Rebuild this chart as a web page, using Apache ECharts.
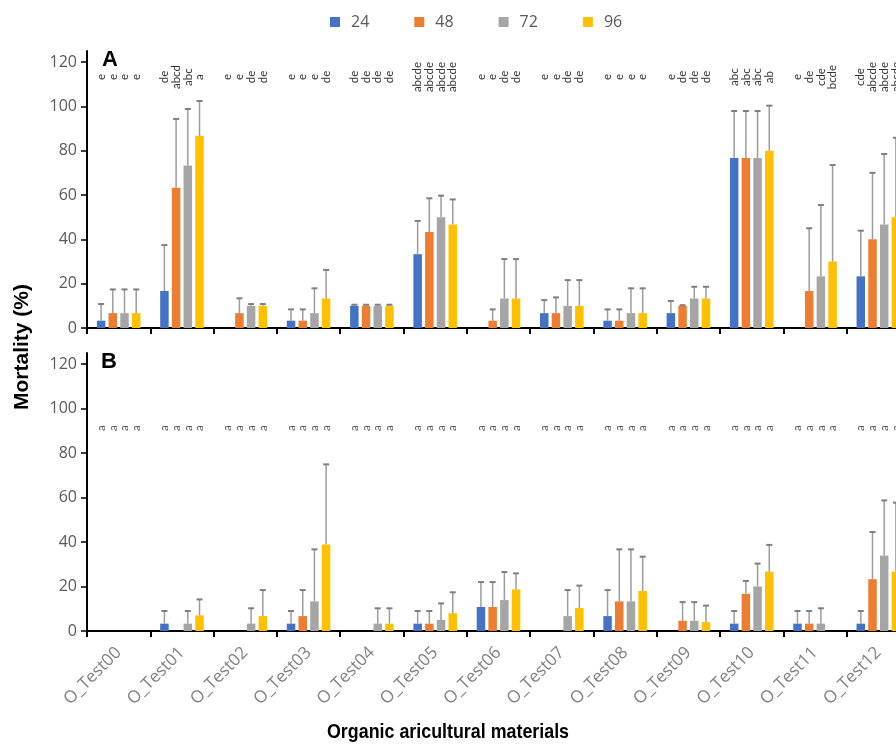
<!DOCTYPE html>
<html>
<head>
<meta charset="utf-8">
<script src="https://cdn.jsdelivr.net/npm/echarts@6/dist/echarts.min.js"></script>
<style>html,body{margin:0;padding:0;background:#fff}#c{width:896px;height:751px}</style>
</head>
<body>
<div id="c"></div>
<script>
// ---------- DATA ----------
const categories = ['O_Test00','O_Test01','O_Test02','O_Test03','O_Test04','O_Test05','O_Test06','O_Test07','O_Test08','O_Test09','O_Test10','O_Test11','O_Test12'];
const seriesNames = ['24','48','72','96'];
const yTicks = [0,20,40,60,80,100,120];

// Panel A means
const a24 = [3.3,16.7,0,3.3,10,33.3,0,6.7,3.3,6.7,76.7,0,23.3];
const a48 = [6.7,63.3,6.7,3.3,10,43.3,3.3,6.7,3.3,10,76.7,16.7,40];
const a72 = [6.7,73.3,10,6.7,10,50,13.3,10,6.7,13.3,76.7,23.3,46.7];
const a96 = [6.7,86.7,10,13.3,10,46.7,13.3,10,6.7,13.3,80,30,50];
// Panel A error (+)
const aErr24 = [7.5,20.7,0,5.1,0.5,15,0,5.9,5.1,5.5,21.2,0,20.6];
const aErr48 = [10.7,31,6.7,5.1,0.5,15.2,5.1,7.1,5.1,0.3,21.2,28.3,30];
const aErr72 = [10.7,25.5,0.8,11.2,0.5,9.7,17.8,11.6,11.2,5.3,21.2,32.2,31.8];
const aErr96 = [10.7,15.7,0.8,12.9,0.5,11.3,17.8,11.6,11.2,5.3,20.3,43.5,35.8];
// Panel A letters
const aLet24 = ['e','de','e','e','de','abcde','e','e','e','e','abc','e','cde'];
const aLet48 = ['e','abcd','e','e','de','abcde','e','e','e','de','abc','de','abcde'];
const aLet72 = ['e','abc','de','e','de','abcde','de','de','e','de','abc','cde','abcde'];
const aLet96 = ['e','a','de','de','de','abcde','de','de','e','de','ab','bcde','abcde'];

// Panel B means
const b24 = [0,3.3,0,3.3,0,3.3,10.8,0,6.7,0,3.3,3.3,3.3];
const b48 = [0,0,0,6.7,0,3.3,10.8,0,13.3,4.6,16.7,3.3,23.3];
const b72 = [0,3.3,3.3,13.3,3.3,5,13.9,6.7,13.3,4.6,20,3.3,33.9];
const b96 = [0,7,6.7,38.9,3.3,8,18.7,10.3,18,4,26.7,0,26.7];
// Panel B error (+)
const bErr24 = [0,5.7,0,5.7,0,5.7,11.2,0,11.7,0,5.7,5.7,5.7];
const bErr48 = [0,0,0,11.7,0,5.7,11.2,0,23.4,8.4,5.8,5.7,21.2];
const bErr72 = [0,5.7,6.9,23.4,6.9,7.4,12.6,11.7,23.4,8.4,10.3,6.9,24.8];
const bErr96 = [0,7.2,11.7,36,6.9,9.4,7.2,10.1,15.4,7.4,12,0,31];
// Panel B letters
const bLet24 = ['a','a','a','a','a','a','a','a','a','a','a','a','a'];
const bLet48 = ['a','a','a','a','a','a','a','a','a','a','a','a','a'];
const bLet72 = ['a','a','a','a','a','a','a','a','a','a','a','a','a'];
const bLet96 = ['a','a','a','a','a','a','a','a','a','a','a','a','a'];

// ---------- STYLE ----------
const colors = ['#4472C4','#ED7D31','#A5A5A5','#FFC000'];
const BAR_W = 8.5, BAR_GAP_PX = 3.2;
const BAR_STEP = BAR_W + BAR_GAP_PX;
const LETTER_Y = [113.2, 91.2];
const panels = [
  {means:[a24,a48,a72,a96], errs:[aErr24,aErr48,aErr72,aErr96], lets:[aLet24,aLet48,aLet72,aLet96], color:'#333333'},
  {means:[b24,b48,b72,b96], errs:[bErr24,bErr48,bErr72,bErr96], lets:[bLet24,bLet48,bLet72,bLet96], color:'#595959'}
];

const chart = echarts.init(document.getElementById('c'), null, {renderer:'canvas'});

const grids = [
  {left:87, width:823, top:50.9, height:277.1, outerBoundsMode:'none', containLabel:false},
  {left:87, width:823, top:352.9, height:278.1, outerBoundsMode:'none', containLabel:false}
];
const xAxes = [0,1].map(p => ({
  type:'category', gridIndex:p, data:categories,
  axisLine:{show:true, lineStyle:{color:'#000', width:2}},
  axisTick:{show:true, alignWithLabel:false, length:6, inside:false, lineStyle:{color:'#000', width:2}},
  axisLabel:{show:p===1, rotate:45, color:'#808080', fontSize:17, fontFamily:'Open Sans', margin:19},
  splitLine:{show:false}
}));
const yAxes = [0,1].map(p => ({
  type:'value', gridIndex:p, min:0, max:125, interval:20,
  axisLine:{show:true, lineStyle:{color:'#000', width:2}},
  axisTick:{show:true, length:6, inside:false, lineStyle:{color:'#000', width:1.5}, customValues:yTicks},
  axisLabel:{color:'#595959', fontSize:16, fontFamily:'Open Sans', margin:10, customValues:yTicks},
  splitLine:{show:false}
}));

const series = [];
panels.forEach((pn, p) => {
  for (let s = 0; s < 4; s++) {
    series.push({
      type:'bar', name:seriesNames[s], xAxisIndex:p, yAxisIndex:p,
      data:pn.means[s], barWidth:BAR_W, barGap:(BAR_GAP_PX/BAR_W*100).toFixed(1)+'%',
      itemStyle:{color:colors[s]}, z:2
    });
  }
  // error bars
  const errData = [];
  for (let s = 0; s < 4; s++) {
    pn.means[s].forEach((v, i) => { if (pn.errs[s][i] > 0) errData.push([i, s, v, pn.errs[s][i]]); });
  }
  series.push({
    type:'custom', xAxisIndex:p, yAxisIndex:p, z:3, silent:true,
    encode:{x:0, y:2},
    data:errData,
    renderItem:function(params, api){
      const cat = api.value(0), s = api.value(1), v = api.value(2), e = api.value(3);
      const p0 = api.coord([cat, v]);
      const p1 = api.coord([cat, v + e]);
      const x = p0[0] + (s - 1.5) * BAR_STEP;
      const st = {stroke:'#9C9C9C', lineWidth:1.5};
      return {type:'group', children:[
        {type:'line', shape:{x1:x, y1:p0[1], x2:x, y2:p1[1]}, style:st},
        {type:'line', shape:{x1:x-3, y1:p1[1], x2:x+3, y2:p1[1]}, style:{stroke:'#7F7F7F', lineWidth:2}}
      ]};
    }
  });
  // significance letters
  const letData = [], letText = [];
  for (let s = 0; s < 4; s++) {
    pn.lets[s].forEach((t, i) => { letData.push([i, s, LETTER_Y[p]]); letText.push(t); });
  }
  series.push({
    type:'custom', xAxisIndex:p, yAxisIndex:p, z:4, silent:true,
    encode:{x:0, y:2},
    data:letData,
    renderItem:function(params, api){
      const cat = api.value(0), s = api.value(1), yv = api.value(2);
      const pt = api.coord([cat, yv]);
      const x = pt[0] + (s - 1.5) * BAR_STEP;
      return {type:'text', x:x, y:pt[1], rotation:Math.PI/2,
        style:{text:letText[params.dataIndex], fill:pn.color, fontSize:11.5, fontFamily:'Lato',
          align:'center', verticalAlign:'middle'}};
    }
  });
});

chart.setOption({
  animation:false,
  backgroundColor:'#fff',
  color:colors,
  legend:{
    data:seriesNames, top:9, left:325, icon:'rect', itemWidth:10, itemHeight:10, itemGap:45,
    textStyle:{color:'#595959', fontSize:16, fontFamily:'Open Sans', padding:[0,0,0,6]}
  },
  title:[
    {text:'A', left:97, top:44, textStyle:{fontSize:22, fontWeight:'bold', color:'#000', fontFamily:'Liberation Sans'}},
    {text:'B', left:96, top:346, textStyle:{fontSize:22, fontWeight:'bold', color:'#000', fontFamily:'Liberation Sans'}}
  ],
  graphic:[
    {type:'text', x:22, y:347, rotation:Math.PI/2,
      style:{text:'Mortality (%)', fill:'#000', fontSize:21, fontWeight:'bold', fontFamily:'Liberation Sans', align:'center', verticalAlign:'middle'}},
    {type:'text', x:448, y:732, scaleX:0.85,
      style:{text:'Organic aricultural materials', fill:'#000', fontSize:21, fontWeight:'bold', fontFamily:'Liberation Sans', align:'center', verticalAlign:'middle'}}
  ],
  grid:grids, xAxis:xAxes, yAxis:yAxes, series:series
});
</script>
</body>
</html>
